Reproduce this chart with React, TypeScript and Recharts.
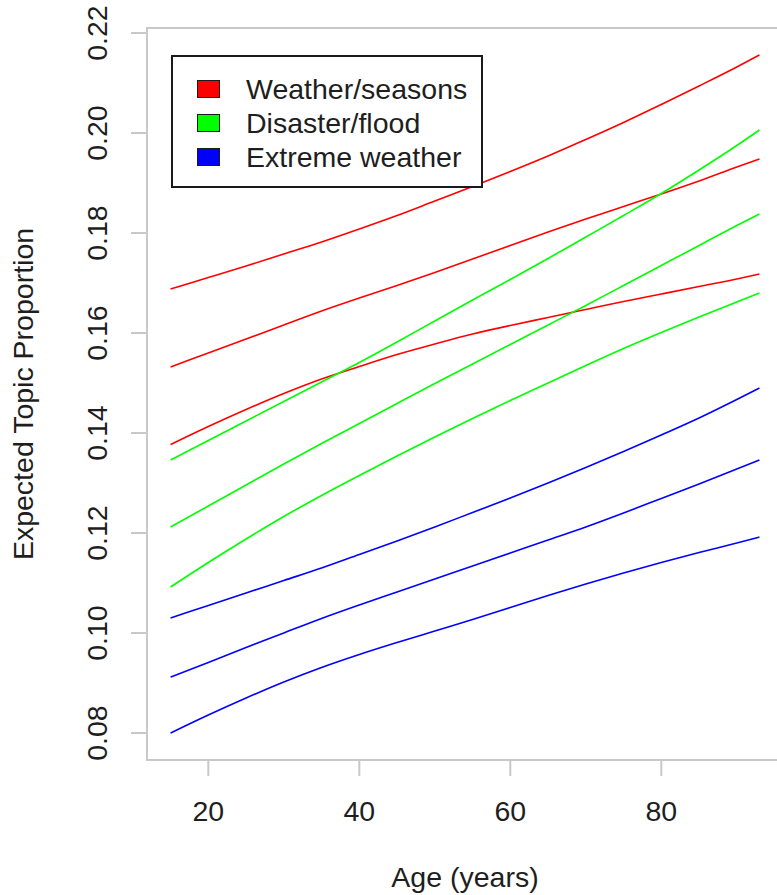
import React from 'react';
import { LineChart, Line, XAxis, YAxis, Legend, ReferenceArea, Label } from 'recharts';

const ages = [15, 20, 25, 30, 35, 40, 45, 50, 55, 60, 65, 70, 75, 80, 85, 90, 93];

// red: Weather/seasons
const weatherHigh = [0.1688, 0.1711, 0.1734, 0.1758, 0.1782, 0.1808, 0.1835, 0.1864, 0.1893, 0.1923, 0.1954, 0.1987, 0.2021, 0.2057, 0.2094, 0.2132, 0.2156];
const weatherMid = [0.1532, 0.156, 0.1588, 0.1616, 0.1644, 0.167, 0.1695, 0.1721, 0.1748, 0.1775, 0.1802, 0.1828, 0.1853, 0.1878, 0.1904, 0.1932, 0.1948];
const weatherLow = [0.1377, 0.1413, 0.1447, 0.1479, 0.1508, 0.1533, 0.1557, 0.1578, 0.1598, 0.1615, 0.1631, 0.1647, 0.1663, 0.1678, 0.1693, 0.1708, 0.1718];

// green: Disaster/flood
const disasterHigh = [0.1346, 0.1385, 0.1424, 0.1463, 0.1502, 0.1541, 0.1582, 0.1624, 0.1666, 0.1707, 0.1749, 0.1792, 0.1835, 0.1879, 0.1926, 0.1975, 0.2006];
const disasterMid = [0.1212, 0.1254, 0.1296, 0.1338, 0.1379, 0.1419, 0.1459, 0.1499, 0.1538, 0.1577, 0.1616, 0.1655, 0.1695, 0.1735, 0.1775, 0.1815, 0.1838];
const disasterLow = [0.1092, 0.1141, 0.1188, 0.1233, 0.1275, 0.1315, 0.1354, 0.1392, 0.1429, 0.1465, 0.15, 0.1535, 0.1569, 0.1601, 0.1632, 0.1662, 0.168];

// blue: Extreme weather
const extremeHigh = [0.103, 0.1055, 0.108, 0.1105, 0.113, 0.1157, 0.1184, 0.1212, 0.1241, 0.127, 0.13, 0.1331, 0.1363, 0.1396, 0.143, 0.1467, 0.149];
const extremeMid = [0.0912, 0.0941, 0.0971, 0.1, 0.1029, 0.1056, 0.1082, 0.1108, 0.1134, 0.116, 0.1186, 0.1212, 0.124, 0.1269, 0.1298, 0.1328, 0.1346];
const extremeLow = [0.08, 0.0836, 0.087, 0.0902, 0.0931, 0.0957, 0.0981, 0.1004, 0.1027, 0.1051, 0.1075, 0.1098, 0.112, 0.1141, 0.1161, 0.118, 0.1192];

const xTicks = [20, 40, 60, 80];
const yTicks = [0.08, 0.1, 0.12, 0.14, 0.16, 0.18, 0.2, 0.22];
const xDomain: [number, number] = [11.88, 96.12];
const yDomain: [number, number] = [0.0746, 0.221];

const topics = [
  { name: 'Weather/seasons', color: '#ff0000' },
  { name: 'Disaster/flood', color: '#00ff00' },
  { name: 'Extreme weather', color: '#0000ff' },
];

const series = [
  { key: 'weatherHigh', values: weatherHigh, color: '#ff0000' },
  { key: 'weatherMid', values: weatherMid, color: '#ff0000' },
  { key: 'weatherLow', values: weatherLow, color: '#ff0000' },
  { key: 'disasterHigh', values: disasterHigh, color: '#00ff00' },
  { key: 'disasterMid', values: disasterMid, color: '#00ff00' },
  { key: 'disasterLow', values: disasterLow, color: '#00ff00' },
  { key: 'extremeHigh', values: extremeHigh, color: '#0000ff' },
  { key: 'extremeMid', values: extremeMid, color: '#0000ff' },
  { key: 'extremeLow', values: extremeLow, color: '#0000ff' },
];

const data = ages.map((age, i) => {
  const row: Record<string, number> = { age };
  series.forEach((s) => {
    row[s.key] = s.values[i];
  });
  return row;
});

const FONT = '"Liberation Sans", Arial, sans-serif';
const FS = 28.5;
const TEXT = '#1e1e1e';
const GREY = '#c8c8c8';

const XTick = (props: any) => {
  const { x, y, payload } = props;
  return (
    <text x={x} y={y} textAnchor="middle" fontSize={FS} fontFamily={FONT} fill={TEXT}>
      {payload.value}
    </text>
  );
};

const YTick = (props: any) => {
  const { x, y, payload } = props;
  return (
    <text
      x={x}
      y={y}
      textAnchor="middle"
      transform={`rotate(-90, ${x}, ${y})`}
      fontSize={FS}
      fontFamily={FONT}
      fill={TEXT}
    >
      {Number(payload.value).toFixed(2)}
    </text>
  );
};

const YTitle = (props: any) => {
  const vb = props.viewBox;
  const x = vb.x + 33;
  const y = vb.y + vb.height / 2;
  return (
    <text
      x={x}
      y={y}
      textAnchor="middle"
      transform={`rotate(-90, ${x}, ${y})`}
      fontSize={FS}
      fontFamily={FONT}
      fill={TEXT}
    >
      Expected Topic Proportion
    </text>
  );
};

const LegendBox = () => (
  <div
    style={{
      boxSizing: 'border-box',
      width: 312,
      height: 133,
      border: '2px solid #1a1a1a',
      background: '#fff',
      paddingTop: 15,
      fontFamily: FONT,
      fontSize: FS,
      color: TEXT,
    }}
  >
    {topics.map((t) => (
      <div key={t.name} style={{ display: 'flex', alignItems: 'center', height: 34, lineHeight: '34px' }}>
        <div
          style={{
            boxSizing: 'border-box',
            marginLeft: 24,
            width: 23,
            height: 18,
            background: t.color,
            border: '1.5px solid #1a1a1a',
          }}
        />
        <span style={{ marginLeft: 26, whiteSpace: 'nowrap' }}>{t.name}</span>
      </div>
    ))}
  </div>
);

export default function App() {
  return (
    <div
      style={{
        position: 'absolute',
        left: 0,
        top: 0,
        width: 777,
        height: 895,
        overflow: 'hidden',
        background: '#fff',
      }}
    >
      <LineChart width={790} height={895} data={data} margin={{ top: 28, right: 7, bottom: 0, left: 0 }}>
        <ReferenceArea
          x1={xDomain[0]}
          x2={xDomain[1]}
          y1={yDomain[0]}
          y2={yDomain[1]}
          fill="none"
          stroke={GREY}
          strokeWidth={2}
        />
        <XAxis
          dataKey="age"
          type="number"
          domain={xDomain}
          ticks={xTicks}
          allowDataOverflow
          height={135}
          axisLine={false}
          tickSize={16}
          tickMargin={45}
          tickLine={{ stroke: GREY, strokeWidth: 2 }}
          tick={<XTick />}
        >
          <Label
            value="Age (years)"
            position="insideBottom"
            offset={8}
            style={{ fontSize: FS, fontFamily: FONT, fill: TEXT }}
          />
        </XAxis>
        <YAxis
          type="number"
          domain={yDomain}
          ticks={yTicks}
          allowDataOverflow
          width={147}
          axisLine={false}
          tickSize={16}
          tickMargin={24}
          tickLine={{ stroke: GREY, strokeWidth: 2 }}
          tick={<YTick />}
        >
          <Label content={<YTitle />} />
        </YAxis>
        <Legend
          layout="vertical"
          align="center"
          verticalAlign="middle"
          wrapperStyle={{ left: 171, top: 55, width: 312, height: 133 }}
          content={() => <LegendBox />}
        />
        {series.map((s) => (
          <Line
            key={s.key}
            dataKey={s.key}
            type="monotone"
            stroke={s.color}
            strokeWidth={1.6}
            dot={false}
            activeDot={false}
            isAnimationActive={false}
          />
        ))}
      </LineChart>
    </div>
  );
}
